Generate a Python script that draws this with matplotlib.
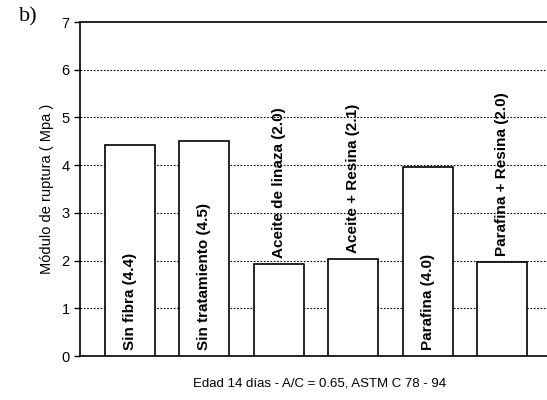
import matplotlib
matplotlib.use("Agg")
import matplotlib.pyplot as plt

# values
categories = ["Sin fibra (4.4)", "Sin tratamiento (4.5)", "Aceite de linaza (2.0)",
              "Aceite + Resina (2.1)", "Parafina (4.0)", "Parafina + Resina (2.0)"]
values = [4.43, 4.51, 1.93, 2.03, 3.96, 1.97]
label_inside = [True, True, False, False, True, False]
yticks = [0, 1, 2, 3, 4, 5, 6, 7]

plt.rcParams['font.family'] = ['Liberation Sans', 'DejaVu Sans']

fig = plt.figure(figsize=(5.47, 4.0), dpi=100)
ax = fig.add_axes([80 / 547, 1 - 356 / 400, 1 - 80 / 547, (356 - 22) / 400])

x = list(range(len(values)))
ax.bar(x, values, width=0.67, color="white", edgecolor="black", linewidth=1.2, zorder=3)

for i, (lab, v, inside) in enumerate(zip(categories, values, label_inside)):
  y0 = 0.12 if inside else v + 0.12
  ax.text(i, y0, lab, rotation=90, ha="center", va="bottom",
          fontsize=11, fontweight="bold", zorder=4)

ax.set_xlim(-0.672, 5.605)
ax.set_ylim(0, 7)
ax.set_yticks(yticks)
ax.set_xticks([])
ax.tick_params(axis="y", labelsize=10.5, length=4, width=1, direction="out")

for yv in yticks[1:-1]:
  ax.axhline(yv, color="black", linestyle=(0, (1.5, 1.5)), linewidth=0.8, zorder=1)

ax.spines["right"].set_visible(False)
for s in ("left", "bottom", "top"):
  ax.spines[s].set_linewidth(1.2)

ax.set_ylabel("Módulo de ruptura ( Mpa )", fontsize=10.5, labelpad=5)

fig.text(320 / 547, 1 - 383 / 400, "Edad 14 días - A/C = 0.65, ASTM C 78 - 94",
         ha="center", va="center", fontsize=9.5)
fig.text(19 / 547, 1 - 17 / 400, "b)", ha="left", va="center",
         fontsize=16, family=["Liberation Serif", "DejaVu Serif"])

fig.savefig("out.png", dpi=100)
